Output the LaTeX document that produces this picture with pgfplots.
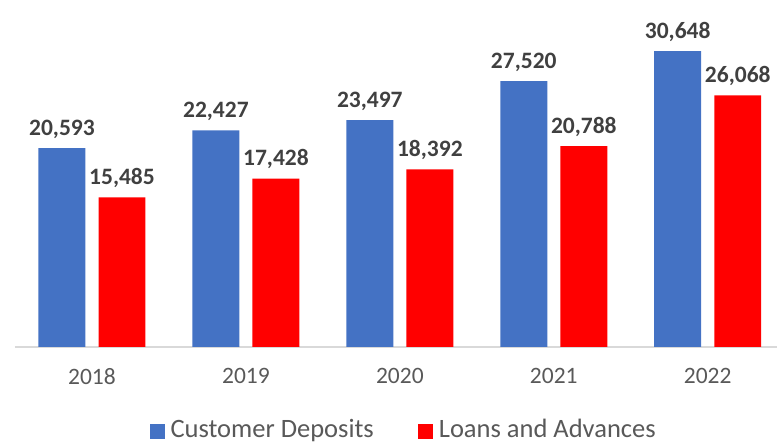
\documentclass[border=0pt]{standalone}
\usepackage{pgfplots}
\pgfplotsset{compat=1.18}
\usepackage{fontspec}
\setmainfont{Carlito}
\definecolor{cblue}{HTML}{4472C4}
\definecolor{cred}{HTML}{FF0000}
\definecolor{tgray}{HTML}{595959}
\definecolor{lgray}{HTML}{404040}
\definecolor{agray}{HTML}{D9D9D9}
\begin{document}
\begin{tikzpicture}
\useasboundingbox (0,0) rectangle (777pt,444pt);
\begin{axis}[
  at={(15pt,97pt)}, anchor=south west,
  scale only axis, width=762pt, height=338pt,
  xmin=-0.5, xmax=4.45, ymin=0, ymax=35000,
  axis x line=bottom, axis y line=none,
  x axis line style={draw=agray, line width=1.5pt, -},
  xtick={0,1,2,3,4}, xticklabels={2018,2019,2020,2021,2022},
  major tick length=0pt,
  xticklabel style={font=\fontsize{23.5}{28}\selectfont, text=tgray, yshift=-18pt},
  /pgf/number format/assume math mode=true,
  ybar, bar width=0.305,
  /pgf/number format/.cd, 1000 sep={,}, /pgfplots/.cd,
  nodes near coords,
  every node near coord/.append style={font=\fontsize{23.5}{28}\selectfont\bfseries, text=lgray, anchor=south, yshift=6pt},
  legend columns=2,
  legend style={at={(0.51,-0.278)}, anchor=south, draw=none, inner sep=0pt,
    font=\fontsize{26.5}{30}\selectfont, text=tgray,
    /tikz/every even column/.style={column sep=42pt}},
  legend image code/.code={\fill[#1] (0pt,-10pt) rectangle (15pt,5pt); \path (19pt,0pt);},
]
\addplot[fill=cblue, draw=none, bar shift=-0.195] coordinates {(0,20593) (1,22427) (2,23497) (3,27520) (4,30648)};
\addplot[fill=cred, draw=none, bar shift=0.195] coordinates {(0,15485) (1,17428) (2,18392) (3,20788) (4,26068)};
\legend{Customer Deposits, Loans and Advances}
\end{axis}
\end{tikzpicture}
\end{document}
